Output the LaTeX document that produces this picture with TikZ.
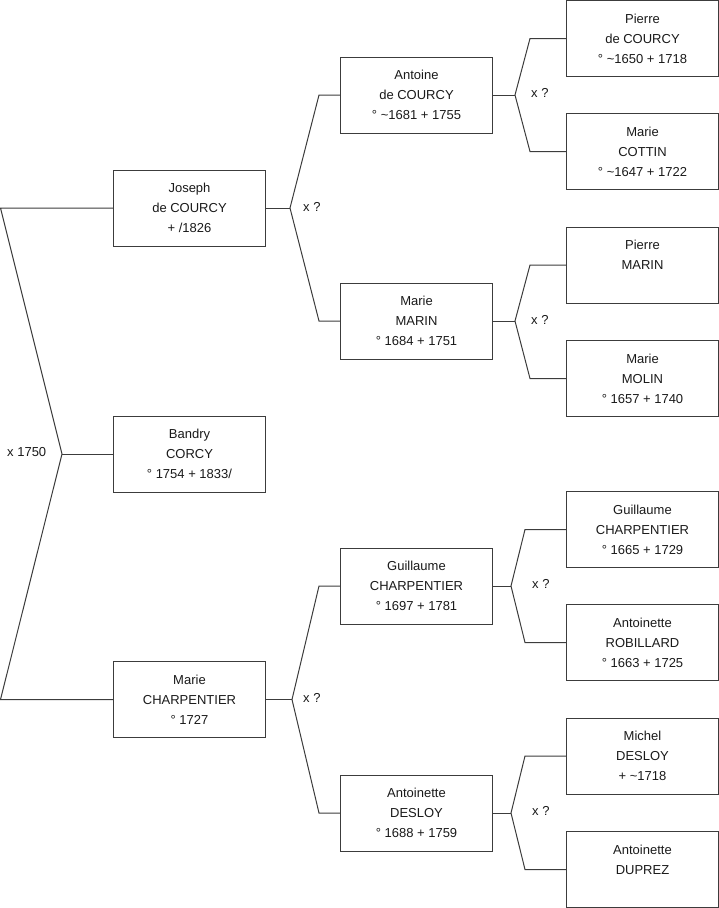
\documentclass[tikz,border=0pt]{standalone}
\usepackage{fontspec}
\setmainfont{Liberation Sans}
\usetikzlibrary{positioning}
\definecolor{ftInk}{HTML}{1A1A1A}
\definecolor{ftLine}{HTML}{3C3C3C}
\tikzset{
  ft diagram/.style={font=\fontsize{13}{20}\selectfont, text=ftInk,
    x=1pt, y=-1pt},
  ft person/.style={draw=ftLine, fill=white, line width=1pt,
    align=center, minimum width=152pt, minimum height=76pt,
    inner sep=2pt},
  ft link/.style={draw=ftLine, line width=1pt},
  ft label/.style={anchor=west, inner sep=0pt}
}
\begin{document}
\begin{tikzpicture}[ft diagram]
\useasboundingbox (0,0) rectangle (719,908);
% generation 1
\node[ft person] (joseph) at (189.5,208) {Joseph\\de COURCY\\+ /1826};
\node[ft person] (bandry) at (189.5,454) {Bandry\\CORCY\\° 1754 + 1833/};
\node[ft person] (mariec) at (189.5,699.5) {Marie\\CHARPENTIER\\° 1727};
% generation 2
\node[ft person] (antoine) at (416.5,95) {Antoine\\de COURCY\\° \textasciitilde1681 + 1755};
\node[ft person] (marin) at (416.5,321) {Marie\\MARIN\\° 1684 + 1751};
\node[ft person] (guillaume) at (416.5,586) {Guillaume\\CHARPENTIER\\° 1697 + 1781};
\node[ft person] (desloy) at (416.5,813) {Antoinette\\DESLOY\\° 1688 + 1759};
% generation 3
\node[ft person] (pierrec) at (642.5,38.5) {Pierre\\de COURCY\\° \textasciitilde1650 + 1718};
\node[ft person] (cottin) at (642.5,151.5) {Marie\\COTTIN\\° \textasciitilde1647 + 1722};
\node[ft person] (pierrem) at (642.5,265) {Pierre\\MARIN\\\phantom{0}};
\node[ft person] (molin) at (642.5,378.5) {Marie\\MOLIN\\° 1657 + 1740};
\node[ft person] (guillaumec) at (642.5,529.5) {Guillaume\\CHARPENTIER\\° 1665 + 1729};
\node[ft person] (robillard) at (642.5,642.5) {Antoinette\\ROBILLARD\\° 1663 + 1725};
\node[ft person] (michel) at (642.5,756) {Michel\\DESLOY\\+ \textasciitilde1718};
\node[ft person] (duprez) at (642.5,869.5) {Antoinette\\DUPREZ\\\phantom{0}};
% couple forks
\coordinate (rx) at (62,454);
\coordinate (rxa) at (0.5,208);
\coordinate (rxb) at (0.5,699.5);
\coordinate (jx) at (290,208);
\coordinate (jxa) at (319,95);
\coordinate (jxb) at (319,321);
\coordinate (mx) at (292,699.5);
\coordinate (mxa) at (319,586);
\coordinate (mxb) at (319,813);
\coordinate (ax) at (515,95);
\coordinate (axa) at (530,38.5);
\coordinate (axb) at (530,151.5);
\coordinate (kx) at (515,321);
\coordinate (kxa) at (530,265);
\coordinate (kxb) at (530,378.5);
\coordinate (gx) at (511,586);
\coordinate (gxa) at (525,529.5);
\coordinate (gxb) at (525,642.5);
\coordinate (dx) at (511,813);
\coordinate (dxa) at (525,756);
\coordinate (dxb) at (525,869.5);
\draw[ft link] (joseph.west) -- (rxa) -- (rx) -- (rxb) -- (mariec.west);
\draw[ft link] (rx) -- (bandry.west);
\draw[ft link] (joseph.east) -- (jx);
\draw[ft link] (antoine.west) -- (jxa) -- (jx) -- (jxb) -- (marin.west);
\draw[ft link] (mariec.east) -- (mx);
\draw[ft link] (guillaume.west) -- (mxa) -- (mx) -- (mxb) -- (desloy.west);
\draw[ft link] (antoine.east) -- (ax);
\draw[ft link] (pierrec.west) -- (axa) -- (ax) -- (axb) -- (cottin.west);
\draw[ft link] (marin.east) -- (kx);
\draw[ft link] (pierrem.west) -- (kxa) -- (kx) -- (kxb) -- (molin.west);
\draw[ft link] (guillaume.east) -- (gx);
\draw[ft link] (guillaumec.west) -- (gxa) -- (gx) -- (gxb) -- (robillard.west);
\draw[ft link] (desloy.east) -- (dx);
\draw[ft link] (michel.west) -- (dxa) -- (dx) -- (dxb) -- (duprez.west);
% marriage labels
\node[ft label] (rlab) at (7,452) {x 1750};
\node[ft label] (jlab) at (303,207) {x ?};
\node[ft label] (mlab) at (303,698) {x ?};
\node[ft label] (alab) at (531,93) {x ?};
\node[ft label] (klab) at (531,320) {x ?};
\node[ft label] (glab) at (532,584) {x ?};
\node[ft label] (dlab) at (532,811) {x ?};
\end{tikzpicture}
\end{document}
